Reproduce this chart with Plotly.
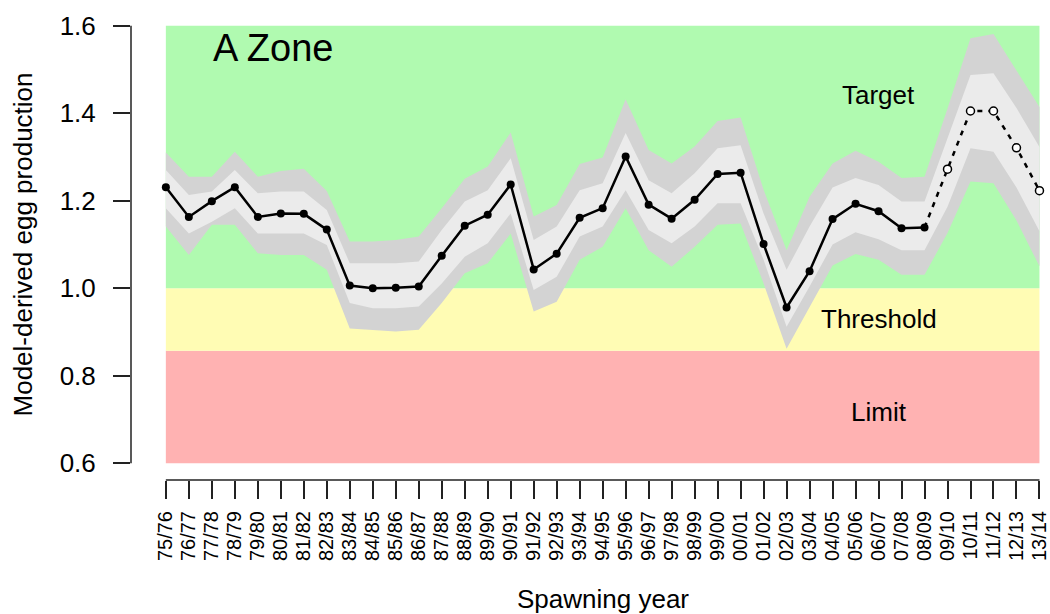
import plotly.graph_objects as go

# ---------------- data ----------------
years = ["75/76", "76/77", "77/78", "78/79", "79/80", "80/81", "81/82", "82/83", "83/84",
         "84/85", "85/86", "86/87", "87/88", "88/89", "89/90", "90/91", "91/92", "92/93",
         "93/94", "94/95", "95/96", "96/97", "97/98", "98/99", "99/00", "00/01", "01/02",
         "02/03", "03/04", "04/05", "05/06", "06/07", "07/08", "08/09", "09/10", "10/11",
         "11/12", "12/13", "13/14"]

egg_obs = [1.231, 1.163, 1.199, 1.231, 1.163, 1.171, 1.170, 1.134, 1.006, 1.000, 1.001,
           1.004, 1.074, 1.143, 1.168, 1.237, 1.043, 1.079, 1.161, 1.183, 1.301, 1.191,
           1.159, 1.202, 1.261, 1.264, 1.101, 0.956, 1.039, 1.158, 1.193, 1.176, 1.137,
           1.139]
egg_proj = [1.272, 1.405, 1.405, 1.321, 1.223]

outer_upper = [1.310, 1.255, 1.255, 1.312, 1.255, 1.268, 1.273, 1.222, 1.107, 1.107, 1.110,
               1.118, 1.183, 1.250, 1.278, 1.356, 1.164, 1.190, 1.284, 1.299, 1.432, 1.316,
               1.285, 1.324, 1.382, 1.390, 1.225, 1.087, 1.209, 1.285, 1.314, 1.289, 1.252,
               1.255, 1.411, 1.571, 1.581, 1.499, 1.414]
inner_upper = [1.270, 1.213, 1.221, 1.270, 1.217, 1.221, 1.221, 1.179, 1.057, 1.057, 1.057,
               1.061, 1.133, 1.198, 1.224, 1.297, 1.110, 1.141, 1.224, 1.240, 1.355, 1.247,
               1.217, 1.263, 1.320, 1.327, 1.171, 1.042, 1.141, 1.230, 1.252, 1.236, 1.198,
               1.198, 1.343, 1.487, 1.491, 1.412, 1.323]
inner_lower = [1.183, 1.125, 1.152, 1.183, 1.125, 1.125, 1.125, 1.099, 0.966, 0.954, 0.954,
               0.958, 1.011, 1.072, 1.103, 1.171, 0.996, 1.026, 1.118, 1.141, 1.224, 1.133,
               1.103, 1.141, 1.194, 1.194, 1.065, 0.912, 1.004, 1.100, 1.128, 1.112, 1.087,
               1.087, 1.186, 1.320, 1.312, 1.230, 1.130]
outer_lower = [1.141, 1.076, 1.145, 1.145, 1.080, 1.076, 1.076, 1.042, 0.908, 0.905, 0.901,
               0.905, 0.966, 1.034, 1.057, 1.125, 0.947, 0.969, 1.065, 1.095, 1.183, 1.087,
               1.049, 1.095, 1.145, 1.148, 1.011, 0.862, 0.958, 1.052, 1.078, 1.065, 1.031,
               1.031, 1.126, 1.244, 1.240, 1.155, 1.050]

zone_limit = [0.6, 0.857]
zone_threshold = [0.857, 1.0]
zone_target = [1.0, 1.6]
y_ticks = [0.6, 0.8, 1.0, 1.2, 1.4, 1.6]

# ---------------- figure ----------------
FONT = "Liberation Sans, Arial, sans-serif"
idx = list(range(len(years)))
n_obs = len(egg_obs)
proj_idx = idx[n_obs:]

fig = go.Figure()

# outer band
fig.add_trace(go.Scatter(x=idx, y=outer_lower, mode="lines", line=dict(width=0),
                         hoverinfo="skip", showlegend=False))
fig.add_trace(go.Scatter(x=idx, y=outer_upper, mode="lines", line=dict(width=0),
                         fill="tonexty", fillcolor="#D3D3D3", hoverinfo="skip",
                         showlegend=False))
# inner band
fig.add_trace(go.Scatter(x=idx, y=inner_lower, mode="lines", line=dict(width=0),
                         hoverinfo="skip", showlegend=False))
fig.add_trace(go.Scatter(x=idx, y=inner_upper, mode="lines", line=dict(width=0),
                         fill="tonexty", fillcolor="#EBEBEB", hoverinfo="skip",
                         showlegend=False))

# projected (dotted) line
fig.add_trace(go.Scatter(x=[idx[n_obs - 1]] + proj_idx, y=[egg_obs[-1]] + egg_proj,
                         mode="lines", line=dict(color="black", width=2.5, dash="5px,6px"),
                         showlegend=False))
fig.add_trace(go.Scatter(x=proj_idx, y=egg_proj, mode="markers",
                         marker=dict(symbol="circle", size=8, color="white",
                                     line=dict(color="black", width=1.5)),
                         showlegend=False))

# observed line
fig.add_trace(go.Scatter(x=idx[:n_obs], y=egg_obs, mode="lines+markers",
                         line=dict(color="black", width=2.5),
                         marker=dict(symbol="circle", size=8, color="black"),
                         showlegend=False))

# zone rectangles
for (y0, y1), col in [(zone_limit, "rgb(255,178,178)"),
                      (zone_threshold, "rgb(255,252,180)"),
                      (zone_target, "rgb(176,250,176)")]:
    fig.add_shape(type="rect", xref="x", yref="y", x0=0, x1=len(years) - 1, y0=y0, y1=y1,
                  fillcolor=col, line=dict(width=0), layer="below")

# detached R-style axis lines
fig.add_shape(type="line", xref="paper", yref="y", x0=0, x1=0, y0=y_ticks[0], y1=y_ticks[-1],
              line=dict(color="#222", width=1.5))
fig.add_shape(type="line", xref="x", yref="paper", x0=0, x1=len(years) - 1, y0=0, y1=0,
              line=dict(color="#222", width=1.5))

# text labels
fig.add_annotation(x=1.95, y=1.549, xref="x", yref="y", text="A Zone", showarrow=False,
                   xanchor="left", yanchor="middle", font=dict(family=FONT, size=38, color="black"))
for txt, yv in [("Target", 1.442), ("Threshold", 0.929), ("Limit", 0.718)]:
    fig.add_annotation(x=31, y=yv, xref="x", yref="y", text=txt, showarrow=False,
                       xanchor="center", yanchor="middle",
                       font=dict(family=FONT, size=26, color="black"))

# axis titles
fig.add_annotation(x=0, y=1.1, xref="paper", yref="y", xshift=-108, text="Model-derived egg production",
                   textangle=-90, showarrow=False, xanchor="center", yanchor="middle",
                   font=dict(family=FONT, size=26, color="black"))
fig.add_annotation(x=19, y=0, xref="x", yref="paper", yshift=-119, text="Spawning year",
                   showarrow=False, xanchor="center", yanchor="middle",
                   font=dict(family=FONT, size=26, color="black"))

fig.update_layout(
    width=1050, height=614,
    margin=dict(l=131, r=0, t=9, b=134),
    paper_bgcolor="white", plot_bgcolor="white",
    showlegend=False,
    xaxis=dict(range=[-1.516, 38.284], tickmode="array", tickvals=idx, ticktext=years,
               tickangle=-90, ticks="outside", ticklen=18, tickwidth=1.5, tickcolor="#222",
               ticklabelstandoff=4, ticklabeloverflow="allow",
               showgrid=False, zeroline=False, showline=False,
               tickfont=dict(family=FONT, size=20, color="black")),
    yaxis=dict(range=[0.5618, 1.6381], tickmode="array", tickvals=y_ticks,
               tickformat=".1f", ticks="outside", ticklen=17, tickwidth=1.5, tickcolor="#222",
               ticklabelstandoff=12,
               showgrid=False, zeroline=False, showline=False,
               tickfont=dict(family=FONT, size=26, color="black")),
)

fig.write_html("out.html", config={"displayModeBar": False},
               post_script="document.body.style.margin='0';document.body.style.overflow='hidden';")
